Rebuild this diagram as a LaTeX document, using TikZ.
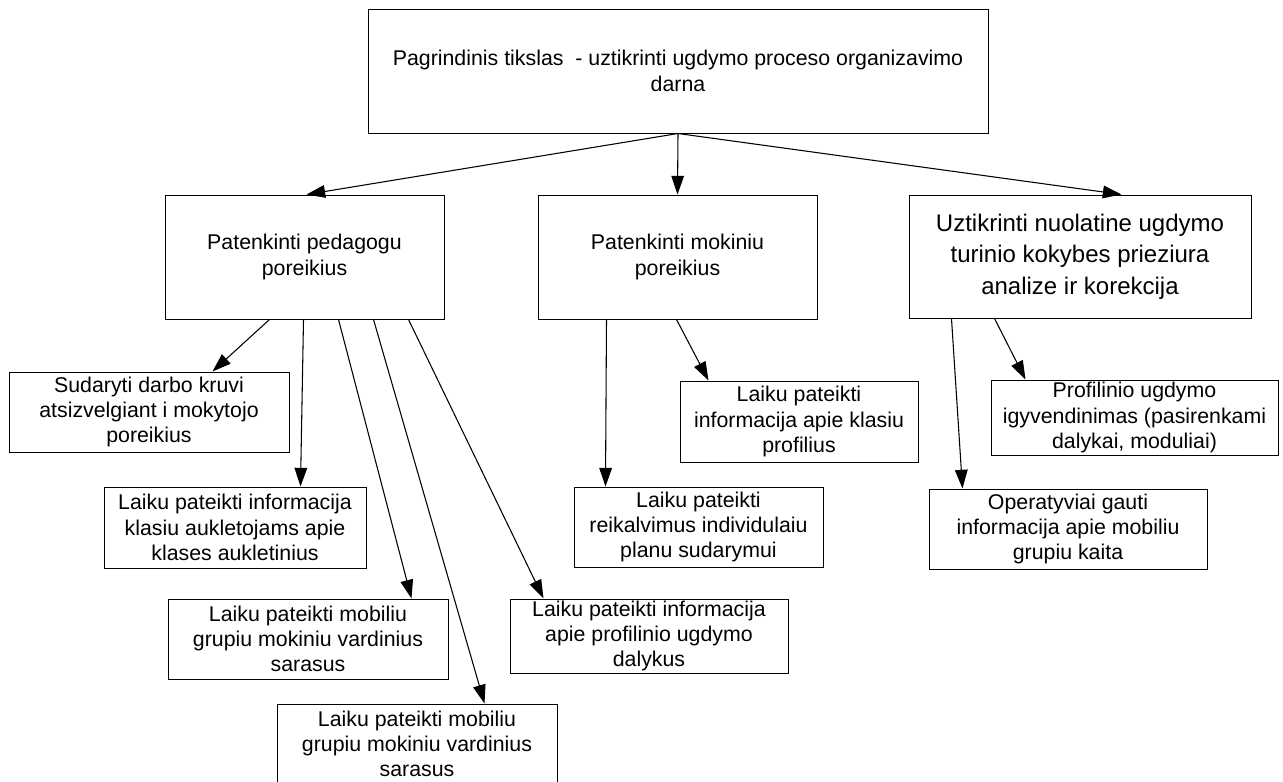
\documentclass[tikz,border=0pt]{standalone}
\usepackage{fontspec}
\setmainfont{Liberation Sans}
\usetikzlibrary{arrows.meta,calc}
\begin{document}
\begin{tikzpicture}[x=0.75pt,y=-0.75pt,
  box/.style={draw=black,line width=0.75pt,fill=white,inner sep=0pt,align=center,
    font=\fontsize{16pt}{19pt}\selectfont},
  bigbox/.style={box,font=\fontsize{18pt}{23.6pt}\selectfont},
  link/.style={draw=black,line width=0.8pt,-{Triangle[length=14pt,width=9.5pt]}}]
\useasboundingbox (0,0) rectangle (1283,782);
\fill[white] (0,0) rectangle (1283,782);

% goal
\node[box,minimum width=465pt,minimum height=93pt] (top) at (678,71)
  {Pagrindinis tikslas~ - uztikrinti ugdymo proceso organizavimo\\darna};

% second level
\node[box,minimum width=209.25pt,minimum height=93pt] (A) at (304.5,257)
  {Patenkinti pedagogu\\poreikius};
\node[box,minimum width=209.25pt,minimum height=93pt] (B) at (677.5,257)
  {Patenkinti mokiniu\\poreikius};
\node[bigbox,minimum width=256.5pt,minimum height=92.25pt] (C) at (1080,256.5)
  {Uztikrinti nuolatine ugdymo\\turinio kokybes prieziura\\analize ir korekcija};

% tasks
\node[box,minimum width=210pt,minimum height=60pt] (S) at (149,412)
  {Sudaryti darbo kruvi\\atsizvelgiant i mokytojo\\poreikius};
\node[box,minimum width=196.5pt,minimum height=60.75pt] (K) at (235,527.5)
  {Laiku pateikti informacija\\klasiu aukletojams apie\\klases aukletinius};
\node[box,minimum width=210pt,minimum height=60pt] (M1) at (308,639)
  {Laiku pateikti mobiliu\\grupiu mokiniu vardinius\\sarasus};
\node[box,minimum width=210pt,minimum height=60pt] (M2) at (417,744)
  {Laiku pateikti mobiliu\\grupiu mokiniu vardinius\\sarasus};
\node[box,minimum width=208.5pt,minimum height=55.5pt] (P) at (649,636)
  {Laiku pateikti informacija\\apie profilinio ugdymo\\dalykus};
\node[box,minimum width=178.5pt,minimum height=60.75pt] (KP) at (799,421.5)
  {Laiku pateikti\\informacija apie klasiu\\profilius};
\node[box,minimum width=186.75pt,minimum height=60pt] (R) at (698.5,527)
  {Laiku pateikti\\reikalvimus individulaiu\\planu sudarymui};
\node[box,minimum width=215.25pt,minimum height=56.25pt] (PU) at (1134.5,417.5)
  {Profilinio ugdymo\\igyvendinimas (pasirenkami\\dalykai, moduliai)};
\node[box,minimum width=208.5pt,minimum height=60pt] (O) at (1068,529)
  {Operatyviai gauti\\informacija apie mobiliu\\grupiu kaita};

% connectors
\draw[link] (top.south) -- ($(A.north west)+(142,0)$);
\draw[link] (top.south) -- (B.north);
\draw[link] (top.south) -- ($(C.north west)+(213,0)$);

\draw[link] ($(A.south west)+(105,0)$) -- ($(S.north west)+(204,0)$);
\draw[link] ($(A.south west)+(139,0)$) -- ($(K.north west)+(197,0)$);
\draw[link] ($(A.south west)+(174,0)$) -- ($(M1.north west)+(244,0)$);
\draw[link] ($(A.south west)+(209,0)$) -- ($(M2.north west)+(208,0)$);
\draw[link] ($(A.south west)+(244,0)$) -- ($(P.north west)+(34,0)$);

\draw[link] ($(B.south west)+(69,0)$) -- ($(R.north west)+(32,0)$);
\draw[link] ($(B.south west)+(139,0)$) -- ($(KP.north west)+(29,0)$);

\draw[link] ($(C.south west)+(43,0)$) -- ($(O.north west)+(34,0)$);
\draw[link] ($(C.south west)+(86,0)$) -- ($(PU.north west)+(35,0)$);
\end{tikzpicture}
\end{document}
